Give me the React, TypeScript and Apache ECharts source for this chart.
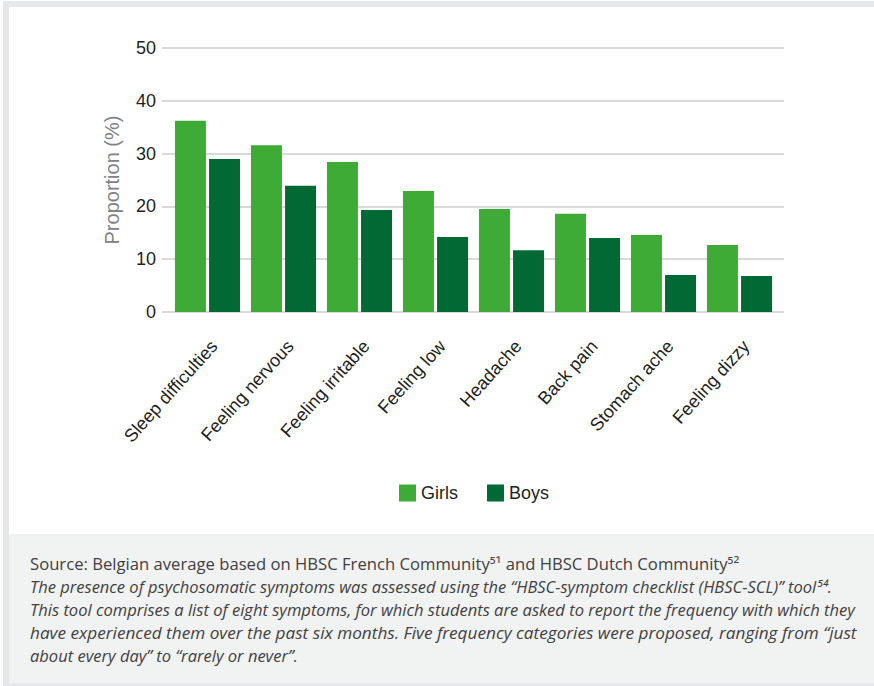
import React, { useEffect, useRef } from "react";
import * as echarts from "echarts";

const categories = [
  "Sleep difficulties",
  "Feeling nervous",
  "Feeling irritable",
  "Feeling low",
  "Headache",
  "Back pain",
  "Stomach ache",
  "Feeling dizzy",
];
const girls = [36.2, 31.6, 28.4, 22.9, 19.5, 18.6, 14.6, 12.7];
const boys = [29.0, 23.9, 19.3, 14.2, 11.7, 14.0, 7.0, 6.8];
const yMin = 0;
const yMax = 50;
const yStep = 10;
const seriesNames = ["Girls", "Boys"];
const yTitle = "Proportion (%)";

const footerLines = [
  "Source: Belgian average based on HBSC French Community\u2075\u00b9 and HBSC Dutch Community\u2075\u00b2",
  "The presence of psychosomatic symptoms was assessed using the \u201cHBSC-symptom checklist (HBSC-SCL)\u201d tool\u2075\u2074.",
  "This tool comprises a list of eight symptoms, for which students are asked to report the frequency with which they",
  "have experienced them over the past six months. Five frequency categories were proposed, ranging from \u201cjust",
  "about every day\u201d to \u201crarely or never\u201d.",
];
const footerItalic = [false, true, true, true, true];
const footerWidths = [709, 802, 826, 827, 268];

const GIRL = "#3dab35";
const BOY = "#006934";
const FONT = "'Liberation Sans', Arial, sans-serif";
const FFONT = "'Open Sans', 'Noto Sans', sans-serif";

export default function App() {
  const ref = useRef<HTMLDivElement>(null);
  useEffect(() => {
    if (!ref.current) return;
    const chart = echarts.init(ref.current, undefined, { renderer: "svg" });

    const canvas = document.createElement("canvas");
    const ctx = canvas.getContext("2d")!;
    const fs = 16;
    const footerGraphics = footerLines.map((t, i) => {
      ctx.font = `${footerItalic[i] ? "italic " : ""}${fs}px ${FFONT}`;
      const w = ctx.measureText(t).width || footerWidths[i];
      return {
        type: "text",
        x: 30,
        y: 564 + i * 23,
        scaleX: footerWidths[i] / w,
        style: {
          text: t,
          fill: "#414042",
          fontFamily: FFONT,
          fontSize: fs,
          fontStyle: footerItalic[i] ? "italic" : "normal",
          align: "left",
          verticalAlign: "middle",
        },
      };
    });

    chart.setOption({
      animation: false,
      backgroundColor: "#ffffff",
      graphic: [
        { type: "rect", shape: { x: 3, y: 1, width: 871, height: 6 }, style: { fill: "#e6e7e8" }, z: -10 },
        { type: "rect", shape: { x: 3, y: 1, width: 6, height: 685 }, style: { fill: "#e6e7e8" }, z: -10 },
        { type: "rect", shape: { x: 9, y: 534, width: 865, height: 149 }, style: { fill: "#f1f2f2" }, z: -10 },
        { type: "rect", shape: { x: 3, y: 683, width: 871, height: 3 }, style: { fill: "#e6e7e8" }, z: -10 },
        ...footerGraphics,
      ],
      legend: {
        data: seriesNames,
        left: 394,
        top: 479,
        icon: "rect",
        itemWidth: 17,
        itemHeight: 17,
        itemGap: 29,
        textStyle: { fontFamily: FONT, fontSize: 18, color: "#231f20" },
      },
      grid: [
        { left: 162, width: 622, top: 48, height: 264 },
        { left: 169.5, width: 608, top: 48, height: 264 },
      ],
      xAxis: [
        { type: "category", gridIndex: 0, data: categories, show: false },
        {
          type: "category",
          gridIndex: 1,
          data: categories,
          axisLine: { show: false },
          axisTick: { show: false },
          axisLabel: {
            rotate: 48,
            margin: 25,
            fontFamily: FONT,
            fontSize: 18,
            color: "#231f20",
            interval: 0,
            verticalAlign: "top",
          },
        },
      ],
      yAxis: [
        {
          type: "value",
          gridIndex: 0,
          min: yMin,
          max: yMax,
          interval: yStep,
          name: yTitle,
          nameLocation: "middle",
          nameGap: 40,
          nameTextStyle: { fontFamily: FONT, fontSize: 20, color: "#808285" },
          axisLine: { show: false },
          axisTick: { show: false },
          axisLabel: { fontFamily: FONT, fontSize: 18, color: "#231f20", margin: 6 },
          splitLine: { show: true, lineStyle: { color: "#d9d9d9", width: 2 } },
        },
        { type: "value", gridIndex: 1, min: yMin, max: yMax, interval: yStep, show: false },
      ],
      series: [
        {
          name: seriesNames[0],
          type: "bar",
          xAxisIndex: 1,
          yAxisIndex: 1,
          data: girls,
          barWidth: 31,
          barGap: "10%",
          itemStyle: { color: GIRL },
        },
        {
          name: seriesNames[1],
          type: "bar",
          xAxisIndex: 1,
          yAxisIndex: 1,
          data: boys,
          barWidth: 31,
          barGap: "10%",
          itemStyle: { color: BOY },
        },
      ],
    });
    return () => chart.dispose();
  }, []);
  return (
    <div
      ref={ref}
      style={{ position: "fixed", left: 0, top: 0, width: 874, height: 686 }}
    />
  );
}
